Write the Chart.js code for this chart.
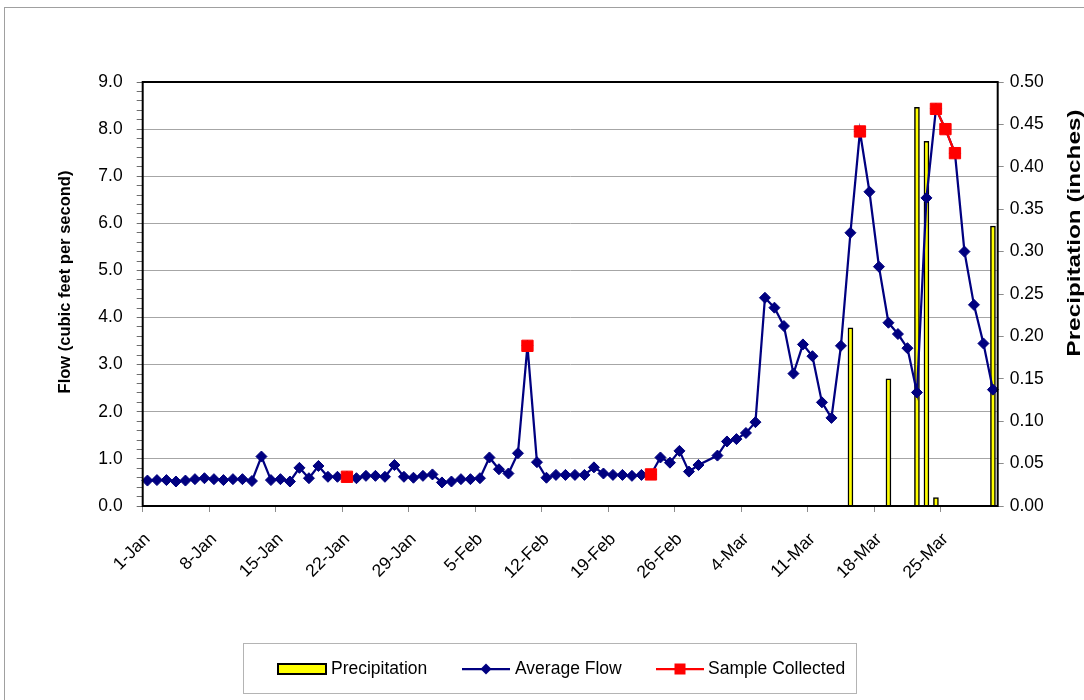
<!DOCTYPE html>
<html>
<head>
<meta charset="utf-8">
<script src="https://cdn.jsdelivr.net/npm/chart.js@4.4.1/dist/chart.umd.min.js"></script>
<style>
  html, body { margin: 0; padding: 0; background: #ffffff; }
  #wrap { position: relative; width: 1084px; height: 700px; }
  canvas { display: block; }
</style>
</head>
<body>
<div id="wrap"><canvas id="chart" width="1084" height="700"></canvas></div>
<script>
// Daily categories, 1-Jan through 30-Mar (leap year)
const monthNames = ['Jan', 'Feb', 'Mar'];
const monthLengths = [31, 29, 30];
const dates = [];
monthNames.forEach((m, k) => {
  for (let d = 1; d <= monthLengths[k]; d++) dates.push(d + '-' + m);
});

// Average daily flow, cubic feet per second (no reading on 29-Feb)
const avgFlow = [
  0.54, 0.55, 0.55, 0.52, 0.54, 0.57, 0.59, 0.57, 0.55, 0.57,
  0.57, 0.53, 1.05, 0.55, 0.57, 0.52, 0.81, 0.59, 0.85, 0.62,
  0.62, 0.62, 0.59, 0.64, 0.64, 0.62, 0.87, 0.62, 0.60, 0.64,
  0.67, 0.50, 0.52, 0.57, 0.57, 0.59, 1.03, 0.78, 0.69, 1.12,
  3.40, 0.93, 0.60, 0.66, 0.66, 0.66, 0.66, 0.82, 0.69, 0.66,
  0.66, 0.64, 0.66, 0.67, 1.03, 0.92, 1.17, 0.73, 0.87, null,
  1.07, 1.37, 1.42, 1.55, 1.78, 4.42, 4.21, 3.82, 2.81, 3.43,
  3.18, 2.20, 1.87, 3.40, 5.80, 7.95, 6.67, 5.08, 3.89, 3.65,
  3.35, 2.41, 6.54, 8.43, 8.00, 7.49, 5.40, 4.27, 3.45, 2.47
];

// Flow on the days a sample was collected
const sampleFlow = [
  null, null, null, null, null, null, null, null, null, null,
  null, null, null, null, null, null, null, null, null, null,
  null, 0.62, null, null, null, null, null, null, null, null,
  null, null, null, null, null, null, null, null, null, null,
  3.40, null, null, null, null, null, null, null, null, null,
  null, null, null, 0.67, null, null, null, null, null, null,
  null, null, null, null, null, null, null, null, null, null,
  null, null, null, null, null, 7.95, null, null, null, null,
  null, null, null, 8.43, 8.00, 7.49, null, null, null, null
];

// Daily precipitation, inches
const precip = [
  null, null, null, null, null, null, null, null, null, null,
  null, null, null, null, null, null, null, null, null, null,
  null, null, null, null, null, null, null, null, null, null,
  null, null, null, null, null, null, null, null, null, null,
  null, null, null, null, null, null, null, null, null, null,
  null, null, null, null, null, null, null, null, null, null,
  null, null, null, null, null, null, null, null, null, null,
  null, null, null, null, 0.21, null, null, null, 0.15, null,
  null, 0.47, 0.43, 0.01, null, null, null, null, null, 0.33
];

const flowTicks = { min: 0, max: 9, minor: 0.2 };
const precipTicks = { min: 0, max: 0.5, step: 0.05 };
const tickEvery = 7;

const FONT = "'Liberation Sans', Arial, Helvetica, sans-serif";
const NAVY = '#000080';
const RED = '#ff0000';
const YELLOW = '#ffff00';
const CLEAR = 'rgba(0,0,0,0)';

Chart.defaults.font.family = FONT;
Chart.defaults.color = '#000000';

const isWhole = v => Math.abs(v - Math.round(v)) < 1e-6;

// Frame, plot border, rotated axis titles and boxed legend
const decorations = {
  id: 'decorations',
  beforeDraw(chart) {
    const ctx = chart.ctx;
    ctx.save();
    ctx.fillStyle = '#ffffff';
    ctx.fillRect(0, 0, chart.width, chart.height);
    ctx.strokeStyle = '#a0a0a0';
    ctx.lineWidth = 1;
    ctx.strokeRect(4.5, 7.5, chart.width + 40, chart.height + 40);
    ctx.restore();
  },
  afterDatasetsDraw(chart) {
    const { ctx, chartArea: a } = chart;
    ctx.save();
    ctx.strokeStyle = '#000000';
    ctx.lineWidth = 2;
    ctx.strokeRect(a.left, a.top, a.right - a.left, a.bottom - a.top);
    ctx.restore();
  },
  afterDraw(chart) {
    const ctx = chart.ctx;
    ctx.save();
    ctx.fillStyle = '#000000';
    ctx.textAlign = 'center';
    ctx.textBaseline = 'middle';

    // left axis title
    ctx.font = 'bold 16.5px ' + FONT;
    ctx.save();
    ctx.translate(65, 282);
    ctx.rotate(-Math.PI / 2);
    ctx.fillText('Flow (cubic feet per second)', 0, 0);
    ctx.restore();

    // right axis title, widened along its length
    ctx.font = 'bold 18px ' + FONT;
    ctx.save();
    ctx.translate(1075, 233);
    ctx.rotate(-Math.PI / 2);
    ctx.scale(1.35, 1);
    ctx.fillText('Precipitation (inches)', 0, 0);
    ctx.restore();

    // legend
    ctx.strokeStyle = '#b4b4b4';
    ctx.lineWidth = 1;
    ctx.strokeRect(243.5, 643.5, 613, 50);
    const cy = 669;
    ctx.font = '17.5px ' + FONT;
    ctx.textAlign = 'left';

    ctx.fillStyle = YELLOW;
    ctx.fillRect(278, cy - 5, 48, 10);
    ctx.strokeStyle = '#000000';
    ctx.lineWidth = 2;
    ctx.strokeRect(278, cy - 5, 48, 10);
    ctx.fillStyle = '#000000';
    ctx.fillText('Precipitation', 331, cy);

    ctx.strokeStyle = NAVY;
    ctx.lineWidth = 2.25;
    ctx.beginPath(); ctx.moveTo(462, cy); ctx.lineTo(510, cy); ctx.stroke();
    ctx.fillStyle = NAVY;
    ctx.beginPath();
    ctx.moveTo(486, cy - 5.5); ctx.lineTo(491.5, cy); ctx.lineTo(486, cy + 5.5); ctx.lineTo(480.5, cy);
    ctx.closePath(); ctx.fill();
    ctx.fillStyle = '#000000';
    ctx.fillText('Average Flow', 515, cy);

    ctx.strokeStyle = RED;
    ctx.beginPath(); ctx.moveTo(656, cy); ctx.lineTo(704, cy); ctx.stroke();
    ctx.fillStyle = RED;
    ctx.fillRect(680 - 5.5, cy - 5.5, 11, 11);
    ctx.fillStyle = '#000000';
    ctx.fillText('Sample Collected', 708, cy);
    ctx.restore();
  }
};

new Chart(document.getElementById('chart'), {
  type: 'bar',
  data: {
    labels: dates,
    datasets: [
      {
        type: 'line',
        label: 'Sample Collected',
        data: sampleFlow,
        yAxisID: 'y',
        order: 0,
        borderColor: RED,
        borderWidth: 2.25,
        backgroundColor: RED,
        pointStyle: 'rect',
        pointRadius: 8,
        pointBorderWidth: 1,
        pointBorderColor: RED,
        pointBackgroundColor: RED,
        spanGaps: false,
        tension: 0
      },
      {
        type: 'line',
        label: 'Average Flow',
        data: avgFlow,
        yAxisID: 'y',
        order: 1,
        borderColor: NAVY,
        borderWidth: 2.25,
        backgroundColor: NAVY,
        pointStyle: 'rectRot',
        pointRadius: 5.5,
        pointBorderWidth: 1,
        pointBorderColor: NAVY,
        pointBackgroundColor: NAVY,
        spanGaps: true,
        tension: 0
      },
      {
        type: 'bar',
        label: 'Precipitation',
        data: precip,
        yAxisID: 'y1',
        order: 2,
        backgroundColor: YELLOW,
        borderColor: '#000000',
        borderWidth: 1.5,
        borderSkipped: 'start',
        barThickness: 5
      }
    ]
  },
  options: {
    responsive: false,
    animation: false,
    devicePixelRatio: 1,
    layout: { padding: { top: 82, left: 0, right: 0, bottom: 0 } },
    plugins: {
      legend: { display: false },
      tooltip: { enabled: false },
      title: { display: false }
    },
    scales: {
      x: {
        type: 'category',
        offset: true,
        border: { display: false },
        grid: {
          offset: true,
          drawOnChartArea: false,
          drawTicks: true,
          tickLength: 6,
          tickColor: ctx => (ctx.index % tickEvery === 0 ? '#8c8c8c' : CLEAR),
          color: CLEAR,
          lineWidth: 1
        },
        ticks: {
          autoSkip: false,
          maxRotation: 45,
          minRotation: 45,
          padding: 17,
          font: { size: 17.5 },
          color: '#000000',
          callback: (value, index) => (index % tickEvery === 0 ? dates[index] : '')
        },
        afterFit(scale) { scale.height = 194; }
      },
      y: {
        type: 'linear',
        position: 'left',
        min: flowTicks.min,
        max: flowTicks.max,
        border: { display: false },
        grid: {
          drawTicks: true,
          tickLength: 6,
          tickColor: '#6e6e6e',
          lineWidth: 1,
          color: ctx => {
            const v = ctx.tick ? ctx.tick.value : 0;
            return (isWhole(v) && v > 0 && v < flowTicks.max) ? '#a6a6a6' : CLEAR;
          }
        },
        ticks: {
          stepSize: flowTicks.minor,
          autoSkip: false,
          padding: 14,
          font: { size: 17.5 },
          color: '#000000',
          callback: v => (isWhole(v) ? Number(v).toFixed(1) : '')
        },
        afterFit(scale) { scale.width = 142.7; }
      },
      y1: {
        type: 'linear',
        position: 'right',
        min: precipTicks.min,
        max: precipTicks.max,
        border: { display: false },
        grid: {
          drawOnChartArea: false,
          drawTicks: true,
          tickLength: 6,
          tickColor: '#8c8c8c',
          lineWidth: 1
        },
        ticks: {
          stepSize: precipTicks.step,
          autoSkip: false,
          padding: 6,
          font: { size: 17.5 },
          color: '#000000',
          callback: v => Number(v).toFixed(2)
        },
        afterFit(scale) { scale.width = 86.3; }
      }
    }
  },
  plugins: [decorations]
});
</script>
</body>
</html>
